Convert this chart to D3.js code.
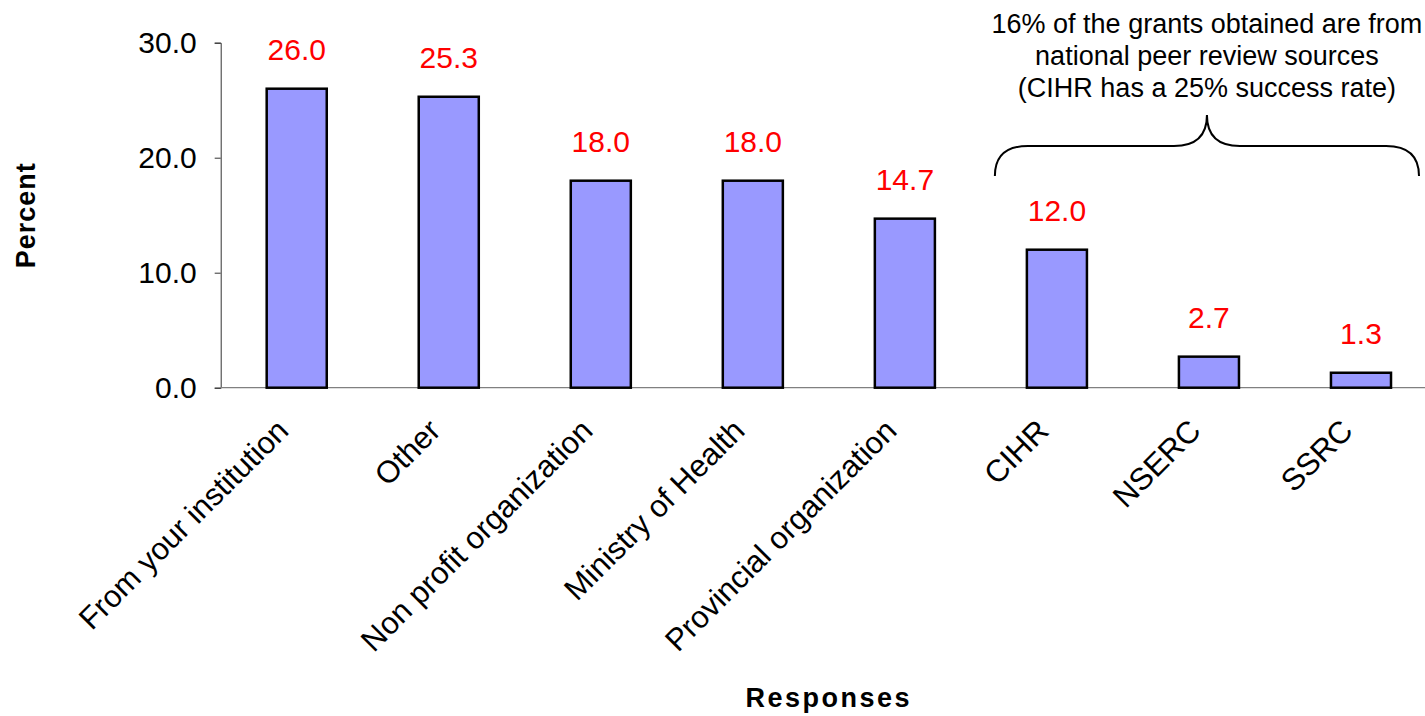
<!DOCTYPE html>
<html>
<head>
<meta charset="utf-8">
<script src="https://cdn.jsdelivr.net/npm/d3@7"></script>
<style>
  body { margin: 0; background: #fff; }
  svg { display: block; font-family: "Liberation Sans", Arial, sans-serif; }
</style>
</head>
<body>
<div id="chart"></div>
<script>
const categories = ['From your institution', 'Other', 'Non profit organization', 'Ministry of Health',
  'Provincial organization', 'CIHR', 'NSERC', 'SSRC']
const values = [26.0, 25.3, 18.0, 18.0, 14.7, 12.0, 2.7, 1.3]
const yTicks = [0, 10, 20, 30]
const noteLines = ['16% of the grants obtained are from', 'national peer review sources', '(CIHR has a 25% success rate)']
const braceFrom = 'CIHR'
const braceTo = 'SSRC'

const width = 1425
const height = 716

const svg = d3.select('#chart').append('svg')
  .attr('width', width)
  .attr('height', height)

const x = d3.scaleBand()
  .domain(categories)
  .range([220.7, 1437])
  .paddingInner(0.605)
  .paddingOuter(0.3025)

const y = d3.scaleLinear()
  .domain([0, 30])
  .range([387.7, 42.7])

// --- y axis ---
const yAxis = svg.append('g')
  .attr('transform', `translate(${x.range()[0]},0)`)
  .call(d3.axisLeft(y).tickValues(yTicks).tickFormat(d3.format('.1f')).tickSize(6).tickPadding(18))
yAxis.select('.domain').attr('stroke', '#333')
yAxis.selectAll('.tick line').attr('stroke', '#333')
yAxis.selectAll('.tick text')
  .attr('font-size', 30)
  .attr('fill', '#000')
  .attr('font-family', '"Liberation Sans", Arial, sans-serif')

// --- baseline ---
svg.append('line')
  .attr('x1', x.range()[0])
  .attr('x2', width)
  .attr('y1', y(0))
  .attr('y2', y(0))
  .attr('stroke', '#808080')
  .attr('stroke-width', 1.2)

// --- bars ---
svg.append('g')
  .selectAll('rect')
  .data(values)
  .join('rect')
    .attr('x', (d, i) => x(categories[i]))
    .attr('y', d => y(d))
    .attr('width', x.bandwidth())
    .attr('height', d => y(0) - y(d))
    .attr('fill', '#9999FF')
    .attr('stroke', '#000')
    .attr('stroke-width', 2.5)

// --- value labels ---
svg.append('g')
  .selectAll('text')
  .data(values)
  .join('text')
    .attr('x', (d, i) => x(categories[i]) + x.bandwidth() / 2)
    .attr('y', d => y(d) - 29)
    .attr('text-anchor', 'middle')
    .attr('font-size', 30)
    .attr('fill', '#FF0000')
    .text(d => d3.format('.1f')(d))

// --- category labels ---
svg.append('g')
  .selectAll('text')
  .data(categories)
  .join('text')
    .attr('transform', d => `translate(${x(d) + x.bandwidth() / 2 - 22},417) rotate(-45)`)
    .attr('text-anchor', 'end')
    .attr('dy', '0.71em')
    .attr('font-size', 31)
    .attr('fill', '#000')
    .text(d => d)

// --- axis titles ---
svg.append('text')
  .attr('transform', `translate(35,${(y.range()[0] + y.range()[1]) / 2}) rotate(-90)`)
  .attr('text-anchor', 'middle')
  .attr('font-size', 27)
  .attr('font-weight', 'bold')
  .attr('letter-spacing', 1)
  .text('Percent')

svg.append('text')
  .attr('x', (x.range()[0] + x.range()[1]) / 2)
  .attr('y', 707)
  .attr('text-anchor', 'middle')
  .attr('font-size', 27)
  .attr('font-weight', 'bold')
  .attr('letter-spacing', 2.5)
  .text('Responses')

// --- brace annotation ---
const bl = x(braceFrom) - 32
const br = x(braceTo) + x.bandwidth() + 28
const bm = (bl + br) / 2
const r = 33
const yEnd = 176, yMid = 146, yTop = 115

const bracePath = d3.path()
bracePath.moveTo(bl, yEnd)
bracePath.quadraticCurveTo(bl, yMid, bl + r, yMid)
bracePath.lineTo(bm - r, yMid)
bracePath.quadraticCurveTo(bm, yMid, bm, yTop)
bracePath.quadraticCurveTo(bm, yMid, bm + r, yMid)
bracePath.lineTo(br - r, yMid)
bracePath.quadraticCurveTo(br, yMid, br, yEnd)

svg.append('path')
  .attr('d', bracePath.toString())
  .attr('fill', 'none')
  .attr('stroke', '#000')
  .attr('stroke-width', 2)

svg.append('g')
  .selectAll('text')
  .data(noteLines)
  .join('text')
    .attr('x', bm)
    .attr('y', (d, i) => 33 + i * 32)
    .attr('text-anchor', 'middle')
    .attr('font-size', 27)
    .attr('fill', '#000')
    .text(d => d)
</script>
</body>
</html>
